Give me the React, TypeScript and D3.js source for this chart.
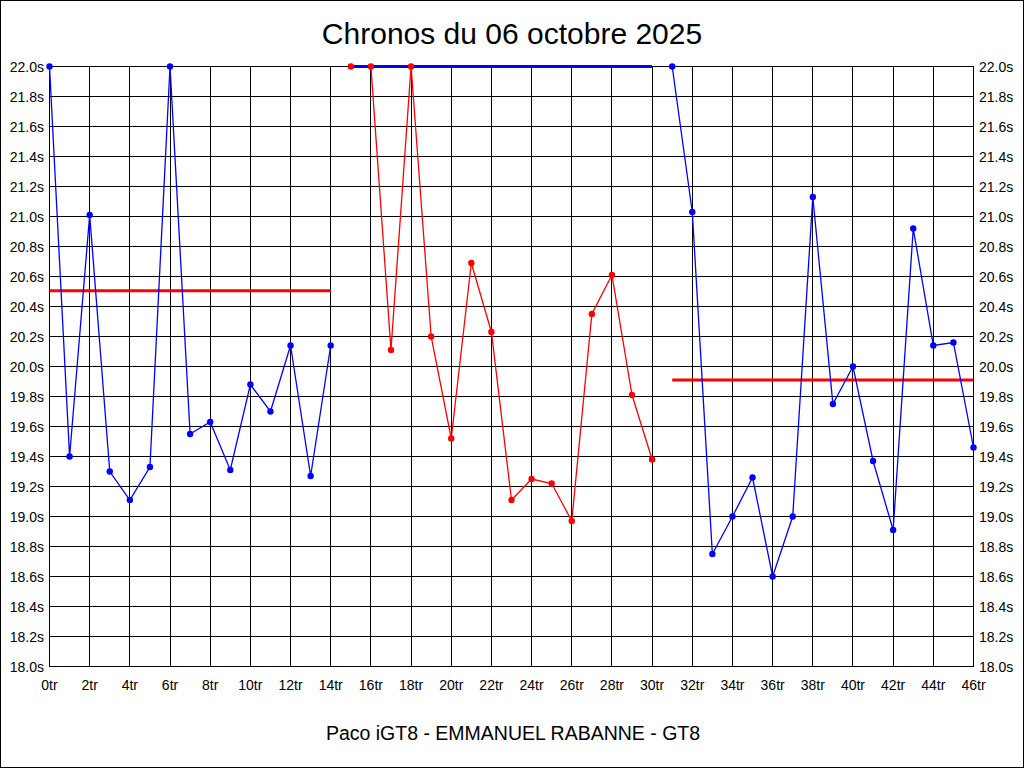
import React from "react";
import * as d3 from "d3";

const W = 1024;
const H = 768;

const title = "Chronos du 06 octobre 2025";
const subtitle = "Paco iGT8 - EMMANUEL RABANNE - GT8";

const blueLaps1 = [0, 1, 2, 3, 4, 5, 6, 7, 8, 9, 10, 11, 12, 13, 14];
const blueTimes1 = [22.0, 19.4, 21.01, 19.3, 19.11, 19.33, 22.0, 19.55, 19.63, 19.31, 19.88, 19.7, 20.14, 19.27, 20.14];

const redLaps = [15, 16, 17, 18, 19, 20, 21, 22, 23, 24, 25, 26, 27, 28, 29, 30];
const redTimes = [22.0, 22.0, 20.11, 22.0, 20.2, 19.52, 20.69, 20.23, 19.11, 19.25, 19.22, 18.97, 20.35, 20.61, 19.81, 19.38];

const blueLaps2 = [31, 32, 33, 34, 35, 36, 37, 38, 39, 40, 41, 42, 43, 44, 45, 46];
const blueTimes2 = [22.0, 21.03, 18.75, 19.0, 19.26, 18.6, 19.0, 21.13, 19.75, 20.0, 19.37, 18.91, 20.92, 20.14, 20.16, 19.46];

const blueTopLaps = [15, 30];
const blueTopTimes = [22.0, 22.0];

const avg1Laps = [0, 14];
const avg1Value = 20.505;
const avg2Laps = [31, 46];
const avg2Value = 19.91;

const xTicks = d3.range(0, 47, 2);
const yTicks = d3.range(0, 21).map((i) => +(18 + i * 0.2).toFixed(1));

export default function App() {
  const x = d3.scaleLinear().domain([0, 46]).range([49.5, 973.5]);
  const y = d3.scaleLinear().domain([18, 22]).range([666.5, 66.5]);

  const line = d3
    .line<[number, number]>()
    .x((d) => x(d[0]))
    .y((d) => y(d[1]));

  const zip = (a: number[], b: number[]) => a.map((v, i) => [v, b[i]] as [number, number]);
  const blue1 = zip(blueLaps1, blueTimes1);
  const red = zip(redLaps, redTimes);
  const blue2 = zip(blueLaps2, blueTimes2);
  const blueTop = zip(blueTopLaps, blueTopTimes);

  const font = "'Liberation Sans', Arial, sans-serif";

  return (
    <svg
      width={W}
      height={H}
      style={{ position: "fixed", left: 0, top: 0, background: "#fff" }}
      fontFamily={font}
    >
      <rect x={0.5} y={0.5} width={W - 1} height={H - 1} fill="#fff" stroke="#000" strokeWidth={1} />
      <text x={512} y={44} textAnchor="middle" fontSize={30} fill="#000">
        {title}
      </text>
      <text x={513} y={740} textAnchor="middle" fontSize={19.5} fill="#000">
        {subtitle}
      </text>

      {/* grid */}
      <g stroke="#000" strokeWidth={1} shapeRendering="crispEdges">
        {xTicks.map((t) => (
          <line key={"vx" + t} x1={x(t)} x2={x(t)} y1={y(22)} y2={y(18)} />
        ))}
        {yTicks.map((t) => (
          <line key={"hy" + t} x1={x(0)} x2={x(46)} y1={y(t)} y2={y(t)} />
        ))}
        <rect x={x(0)} y={y(22)} width={x(46) - x(0)} height={y(18) - y(22)} fill="none" />
      </g>

      {/* tick labels */}
      <g fontSize={14} fill="#000">
        {yTicks.map((t) => (
          <text key={"ly" + t} x={44} y={y(t) + 5} textAnchor="end">
            {t.toFixed(1) + "s"}
          </text>
        ))}
        {yTicks.map((t) => (
          <text key={"ry" + t} x={979} y={y(t) + 5} textAnchor="start">
            {t.toFixed(1) + "s"}
          </text>
        ))}
        {xTicks.map((t) => (
          <text key={"lx" + t} x={x(t)} y={690} textAnchor="middle">
            {t + "tr"}
          </text>
        ))}
      </g>

      {/* averages */}
      <line x1={x(avg1Laps[0])} x2={x(avg1Laps[1])} y1={y(avg1Value)} y2={y(avg1Value)} stroke="#ff0000" strokeWidth={3} />
      <line x1={x(avg2Laps[0])} x2={x(avg2Laps[1])} y1={y(avg2Value)} y2={y(avg2Value)} stroke="#ff0000" strokeWidth={3} />

      {/* series */}
      <path d={line(red) || ""} fill="none" stroke="#ff0000" strokeWidth={1.3} />
      <path d={line(blueTop) || ""} fill="none" stroke="#0000ff" strokeWidth={3} />
      <path d={line(blue1) || ""} fill="none" stroke="#0000ff" strokeWidth={1.3} />
      <path d={line(blue2) || ""} fill="none" stroke="#0000ff" strokeWidth={1.3} />

      {blue1.concat(blue2).map((d, i) => (
        <circle key={"b" + i} cx={x(d[0])} cy={y(d[1])} r={3.2} fill="#0000ff" />
      ))}
      {red.map((d, i) => (
        <circle key={"r" + i} cx={x(d[0])} cy={y(d[1])} r={3.2} fill="#ff0000" />
      ))}
    </svg>
  );
}
